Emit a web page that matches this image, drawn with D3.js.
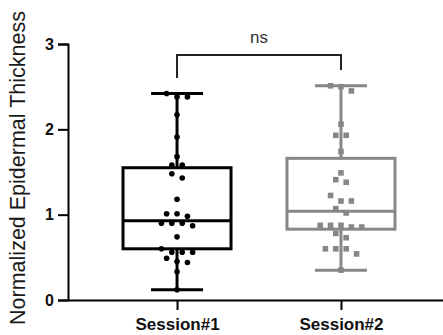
<!DOCTYPE html>
<html>
<head>
  <meta charset="utf-8" />
  <script src="https://cdn.jsdelivr.net/npm/d3@7"></script>
  <style>
    body { margin: 0; background: #fff; }
    svg { display: block; font-family: "Liberation Sans", Arial, sans-serif; }
  </style>
</head>
<body>
  <svg id="chart" width="443" height="335"></svg>
  <script>
    // data
    const sessions = ["Session#1", "Session#2"];
    const session1 = [2.42, 2.38, 2.38, 2.17, 1.91, 1.68, 1.58, 1.58, 1.48, 1.43, 1.18,
      1.01, 1.01, 0.98, 0.90, 0.90, 0.90, 0.87, 0.74, 0.60, 0.56, 0.56, 0.56,
      0.49, 0.45, 0.44, 0.33, 0.12];
    const session2 = [2.51, 2.50, 2.45, 2.06, 1.93, 1.93, 1.74, 1.49, 1.41, 1.38, 1.225,
      1.16, 1.16, 1.07, 1.02, 0.875, 0.875, 0.875, 0.855, 0.855, 0.78, 0.73,
      0.60, 0.60, 0.60, 0.54, 0.35];
    // box summary: min, q1, median, q3, max
    const box1 = [0.12, 0.60, 0.93, 1.55, 2.42];
    const box2 = [0.35, 0.83, 1.04, 1.66, 2.51];
    const yTicks = [0, 1, 2, 3];
    const yLabel = "Normalized Epidermal Thickness";
    const sigLabel = "ns";

    const series = [
      { name: sessions[0], values: session1, box: box1, color: "#000000", shape: "circle" },
      { name: sessions[1], values: session2, box: box2, color: "#878787", shape: "square" },
    ];

    const svg = d3.select("#chart");
    const mLeft = 68, mTop = 44, mBottom = 300, mRight = 450;

    const y = d3.scaleLinear().domain([0, 3]).range([mBottom, mTop]);
    const x = d3.scalePoint().domain(sessions).range([mLeft, mRight]).padding(0.665);

    // y axis
    const yAxis = svg.append("g")
      .attr("transform", "translate(" + mLeft + ",0)")
      .call(d3.axisLeft(y).tickValues(yTicks).tickFormat(d3.format("d")).tickSize(10).tickPadding(4));
    yAxis.select(".domain").attr("stroke-width", 2);
    yAxis.selectAll(".tick line").attr("stroke-width", 2);
    yAxis.selectAll("text")
      .attr("font-size", 16).attr("font-weight", "bold")
      .attr("font-family", "Liberation Sans, Arial, sans-serif")
      .attr("fill", "#111");

    // x axis
    const xAxis = svg.append("g")
      .attr("transform", "translate(0," + mBottom + ")")
      .call(d3.axisBottom(x).tickSize(10).tickPadding(8).tickSizeOuter(0));
    xAxis.select(".domain").attr("stroke-width", 2);
    xAxis.selectAll(".tick line").attr("stroke-width", 2);
    xAxis.selectAll("text")
      .attr("font-size", 17).attr("font-weight", "bold")
      .attr("font-family", "Liberation Sans, Arial, sans-serif")
      .attr("fill", "#111");

    // y axis title
    svg.append("text")
      .attr("transform", "translate(25,168) rotate(-90)")
      .attr("text-anchor", "middle")
      .attr("font-size", 21.5)
      .attr("fill", "#1a1a1a")
      .text(yLabel);

    const boxW = 108, capW = 52, spacing = 10.4, binPx = 6;

    // arrange points in rows, symmetric about the category centre
    function swarm(values) {
      const sorted = values.slice().sort((a, b) => b - a);
      const out = [];
      let group = [];
      sorted.forEach((v) => {
        if (group.length && Math.abs(y(v) - y(group[0])) > binPx) {
          out.push(group); group = [];
        }
        group.push(v);
      });
      if (group.length) out.push(group);
      const pts = [];
      out.forEach((g) => {
        g.forEach((v, i) => pts.push({ v: v, dx: (i - (g.length - 1) / 2) * spacing }));
      });
      return pts;
    }

    series.forEach((s) => {
      const cx = x(s.name);
      const g = svg.append("g");
      const b = s.box;
      // whiskers
      g.append("line").attr("x1", cx).attr("x2", cx).attr("y1", y(b[4])).attr("y2", y(b[3]))
        .attr("stroke", s.color).attr("stroke-width", 3);
      g.append("line").attr("x1", cx).attr("x2", cx).attr("y1", y(b[1])).attr("y2", y(b[0]))
        .attr("stroke", s.color).attr("stroke-width", 3);
      [b[0], b[4]].forEach((v) => {
        g.append("line").attr("x1", cx - capW / 2).attr("x2", cx + capW / 2)
          .attr("y1", y(v)).attr("y2", y(v))
          .attr("stroke", s.color).attr("stroke-width", 3);
      });
      // box
      g.append("rect").attr("x", cx - boxW / 2).attr("y", y(b[3]))
        .attr("width", boxW).attr("height", y(b[1]) - y(b[3]))
        .attr("fill", "none").attr("stroke", s.color).attr("stroke-width", 3);
      g.append("line").attr("x1", cx - boxW / 2).attr("x2", cx + boxW / 2)
        .attr("y1", y(b[2])).attr("y2", y(b[2]))
        .attr("stroke", s.color).attr("stroke-width", 3);

      // points
      const pts = swarm(s.values);
      if (s.shape === "circle") {
        g.selectAll("circle.pt").data(pts).enter().append("circle")
          .attr("class", "pt")
          .attr("cx", (d) => cx + d.dx).attr("cy", (d) => y(d.v))
          .attr("r", 2.8).attr("fill", s.color);
      } else {
        g.selectAll("rect.pt").data(pts).enter().append("rect")
          .attr("class", "pt")
          .attr("x", (d) => cx + d.dx - 2.8).attr("y", (d) => y(d.v) - 2.8)
          .attr("width", 5.6).attr("height", 5.6).attr("fill", s.color);
      }
    });

    // significance bracket
    const x1 = x(sessions[0]), x2 = x(sessions[1]);
    svg.append("path")
      .attr("d", "M" + x1 + "," + 78 + "V" + 55 + "H" + x2 + "V" + 70)
      .attr("fill", "none").attr("stroke", "#222").attr("stroke-width", 2);
    svg.append("text")
      .attr("x", (x1 + x2) / 2).attr("y", 43)
      .attr("text-anchor", "middle")
      .attr("font-size", 17).attr("fill", "#333")
      .text(sigLabel);
  </script>
</body>
</html>
